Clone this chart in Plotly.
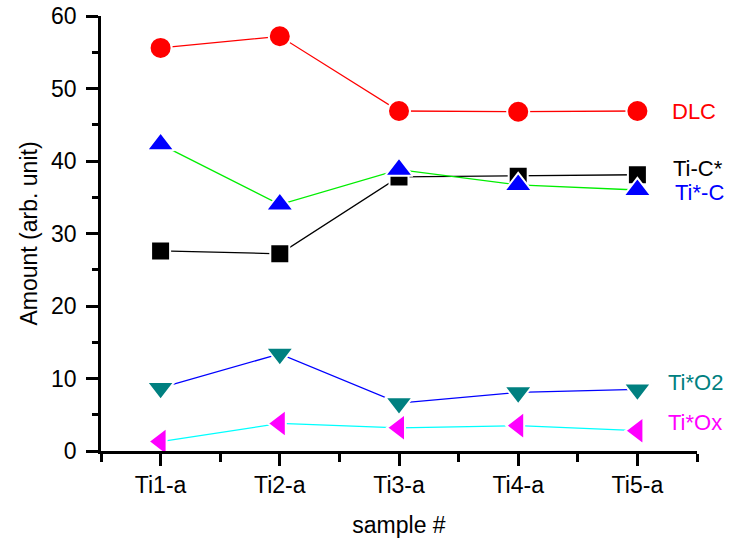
import plotly.graph_objects as go

samples = ["Ti1-a", "Ti2-a", "Ti3-a", "Ti4-a", "Ti5-a"]
dlc = [55.6, 57.2, 46.9, 46.8, 46.9]
ti_c_star = [27.6, 27.2, 37.8, 37.9, 38.1]
ti_star_c = [42.3, 34.0, 38.8, 36.7, 36.0]
ti_o2 = [8.7, 13.4, 6.6, 8.1, 8.5]
ti_ox = [1.3, 3.8, 3.2, 3.5, 2.8]

label_pos = {"DLC": (4.27, 46.8), "Ti-C*": (4.28, 39.0), "Ti*-C": (4.30, 35.6),
             "Ti*O2": (4.24, 9.5), "Ti*Ox": (4.24, 3.9)}

FONT = "Liberation Sans, Arial, sans-serif"
xs = list(range(len(samples)))

series = [
    ("DLC", dlc, "red", "circle", 22, "red", "red"),
    ("Ti-C*", ti_c_star, "black", "square", 19, "black", "black"),
    ("Ti*-C", ti_star_c, "#00ee00", "triangle-up", 24, "blue", "blue"),
    ("Ti*O2", ti_o2, "blue", "triangle-down", 24, "#008080", "#008080"),
    ("Ti*Ox", ti_ox, "cyan", "triangle-left", 24, "magenta", "magenta"),
]

fig = go.Figure()
for name, ys, lc, sym, sz, mc, tc in series:
    fig.add_trace(go.Scatter(
        x=xs, y=ys, mode="lines+markers", name=name,
        line=dict(color=lc, width=1.3),
        marker=dict(symbol=sym, size=sz, color=mc, line=dict(color="white", width=2)),
        showlegend=False,
    ))
    lx, ly = label_pos[name]
    fig.add_annotation(x=lx, y=ly, xref="x", yref="y", text=name,
                       showarrow=False, xanchor="left", yanchor="middle",
                       font=dict(family=FONT, size=22, color=tc))

fig.update_layout(
    width=744, height=541,
    margin=dict(l=101, r=47, t=16, b=90),
    plot_bgcolor="white", paper_bgcolor="white",
    font=dict(family=FONT, size=23, color="black"),
)
fig.update_xaxes(
    range=[-0.5, 4.5], tickvals=xs, ticktext=samples, automargin=False,
    showgrid=False, zeroline=False, showline=True, linecolor="black", linewidth=2.5,
    ticks="outside", ticklen=12, tickwidth=2.5, tickcolor="black",
    minor=dict(tickvals=[-0.5, 0.5, 1.5, 2.5, 3.5, 4.5], ticklen=8, tickwidth=2.5,
               tickcolor="black", ticks="outside", showgrid=False),
    tickfont=dict(family=FONT, size=23),
    title=dict(text="sample #", font=dict(family=FONT, size=23), standoff=20),
)
fig.update_yaxes(
    range=[0, 60], tickvals=[0, 10, 20, 30, 40, 50, 60], automargin=False,
    showgrid=False, zeroline=False, showline=True, linecolor="black", linewidth=2.5,
    ticks="outside", ticklen=12, tickwidth=2.5, tickcolor="black", ticklabelstandoff=5,
    minor=dict(tickvals=[5, 15, 25, 35, 45, 55], ticklen=6, tickwidth=2.5,
               tickcolor="black", ticks="outside", showgrid=False),
    tickfont=dict(family=FONT, size=23),
    title=dict(text="Amount (arb. unit)", font=dict(family=FONT, size=23), standoff=8),
)
fig.write_html("out.html")
